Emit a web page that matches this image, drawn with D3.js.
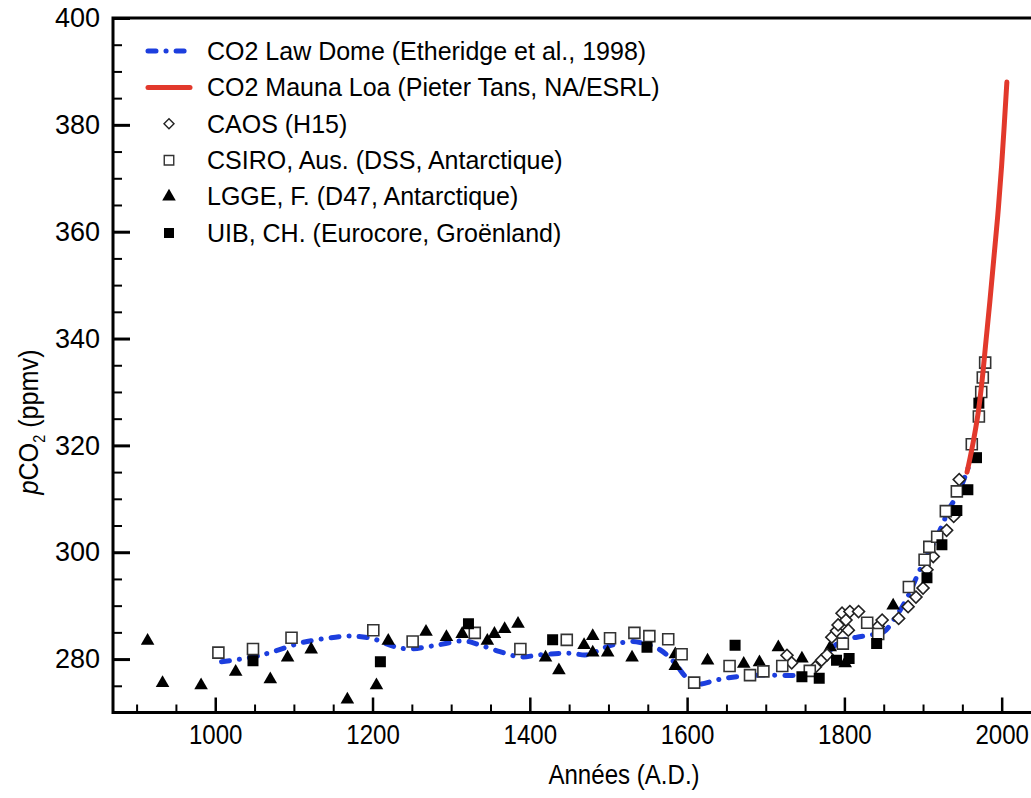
<!DOCTYPE html>
<html>
<head>
<meta charset="utf-8">
<script src="https://cdn.jsdelivr.net/npm/d3@7"></script>
<style>
  body { margin: 0; background: #fff; }
  svg { display: block; }
  .tick text { fill: #000; }
</style>
</head>
<body>
<div id="chart"></div>
<script>
// Law Dome spline (Etheridge et al., 1998), [year, ppmv]
const lawDome = [
  [1008, 279.5], [1049, 280.4], [1074, 281.4], [1108, 283], [1142, 283.9],
  [1172, 284.3], [1201, 283.8], [1222, 282.6], [1244, 281.9], [1278, 282.5],
  [1316, 283.4], [1337, 282.6], [1362, 281.4], [1388, 280.4], [1413, 280.8],
  [1451, 281.1], [1473, 280.8], [1498, 282.3], [1528, 283.3], [1545, 282.9],
  [1566, 281.7], [1583, 279.5], [1600, 276.4], [1612, 275.3], [1638, 276.1],
  [1663, 276.7], [1693, 277], [1740, 277], [1757, 277.6], [1774, 279.8],
  [1784, 282], [1799, 283.6], [1816, 284.1], [1833, 284.5], [1850, 285.1],
  [1862, 287.2], [1880, 291.5], [1896, 296.7], [1918, 303], [1935, 308.6],
  [1943, 310.5], [1956, 315.2], [1962, 318]
];

// Mauna Loa (Pieter Tans, NOAA/ESRL)
const maunaLoa = [
  [1956, 315], [1963, 320], [1970, 326], [1975, 332], [1980, 339.5],
  [1985, 347], [1990, 355], [1995, 363], [2000, 372.5], [2006.6, 388]
];

// CAOS (H15) diamonds
const caos = [
  [1727, 280.7], [1733, 279.3], [1763, 278.5], [1771, 279.8], [1778, 280.8],
  [1784, 284.1], [1790, 285.3], [1792, 286.4], [1797, 288.6], [1802, 287.3],
  [1805, 285.4], [1807, 288.9], [1818, 288.9], [1843, 286.1], [1848, 287.3],
  [1869, 287.6], [1881, 289.8], [1891, 291.6], [1900, 293.3], [1905, 296.7],
  [1913, 299.2], [1930, 304.1], [1939, 306.7], [1946, 313.6]
];

// CSIRO, Aus. (DSS) open squares
const csiro = [
  [1004, 281.2], [1048, 281.9], [1097, 284], [1201, 285.4], [1251, 283.3],
  [1330, 284.9], [1388, 281.9], [1447, 283.6], [1502, 283.9], [1533, 284.9],
  [1552, 284.3], [1576, 283.7], [1593, 280.9], [1609, 275.6], [1654, 278.7],
  [1680, 277], [1697, 277.7], [1721, 278.7], [1756, 277.8], [1798, 282.9],
  [1829, 286.8], [1843, 284.7], [1882, 293.5], [1902, 298.6], [1908, 301],
  [1918, 302.9], [1929, 307.7], [1943, 311.4], [1962, 320.2], [1971, 325.4],
  [1974, 330], [1976, 332.7], [1979, 335.5]
];

// LGGE, F. (D47) triangles
const lgge = [
  [914, 283.4], [933, 275.5], [982, 275.1], [1026, 277.6], [1070, 276.2],
  [1092, 280.3], [1122, 281.8], [1168, 272.4], [1205, 275.1], [1220, 283.4],
  [1268, 285.1], [1294, 284.1], [1314, 284.7], [1346, 283.4], [1355, 284.7],
  [1368, 285.6], [1385, 286.6], [1420, 280.3], [1437, 277.9], [1469, 282.6],
  [1480, 284.3], [1480, 281.2], [1499, 281.2], [1530, 280.3], [1585, 280.9],
  [1585, 278.7], [1626, 279.7], [1672, 279.1], [1692, 279.4], [1716, 282.2],
  [1746, 280.1], [1782, 282.2], [1801, 279.2], [1862, 290]
];

// UIB, CH. (Eurocore) filled squares
const uib = [
  [1048, 279.7], [1210, 279.5], [1322, 286.6], [1429, 283.6], [1549, 282.2],
  [1661, 282.6], [1746, 276.7], [1768, 276.4], [1790, 279.8], [1806, 280.1],
  [1841, 282.9], [1905, 295.2], [1924, 301.4], [1943, 307.8], [1957, 311.7],
  [1968, 317.7], [1971, 327.9]
];

const legendLabels = [
  "CO2 Law Dome (Etheridge et al., 1998)",
  "CO2 Mauna Loa (Pieter Tans, NA/ESRL)",
  "CAOS (H15)",
  "CSIRO, Aus. (DSS, Antarctique)",
  "LGGE, F. (D47, Antarctique)",
  "UIB, CH. (Eurocore, Groënland)"
];

const xMajor = [1000, 1200, 1400, 1600, 1800, 2000];
const yMajor = [280, 300, 320, 340, 360, 380, 400];

const width = 1031, height = 798;
const blue = "#1c3ede", red = "#e2392c";

const svg = d3.select("#chart").append("svg")
  .attr("width", width)
  .attr("height", height)
  .attr("id", "chart_svg");

const x = d3.scaleLinear().domain([870, 2050]).range([113, 1041]);
const y = d3.scaleLinear().domain([270, 400]).range([712.5, 18]);

svg.append("clipPath").attr("id", "plotclip")
  .append("rect")
  .attr("x", x.range()[0]).attr("y", y.range()[1])
  .attr("width", x.range()[1] - x.range()[0])
  .attr("height", y.range()[0] - y.range()[1]);

// minor ticks (every 50 yrs / 5 ppmv), inward
const xMinor = d3.range(900, 2050, 50).filter(v => xMajor.indexOf(v) < 0);
const yMinor = d3.range(275, 400, 5).filter(v => yMajor.indexOf(v) < 0);

svg.append("g")
  .attr("transform", "translate(0," + y.range()[0] + ")")
  .call(d3.axisBottom(x).tickValues(xMinor).tickSize(-8).tickFormat(""))
  .call(g => g.select(".domain").remove())
  .selectAll("line").attr("stroke-width", 2);

svg.append("g")
  .attr("transform", "translate(" + x.range()[0] + ",0)")
  .call(d3.axisLeft(y).tickValues(yMinor).tickSize(-9).tickFormat(""))
  .call(g => g.select(".domain").remove())
  .selectAll("line").attr("stroke-width", 2);

// major ticks with labels
const xAxis = svg.append("g")
  .attr("transform", "translate(0," + y.range()[0] + ")")
  .call(d3.axisBottom(x).tickValues(xMajor).tickSizeInner(-15).tickSizeOuter(0).tickPadding(12).tickFormat(d3.format("d")));
xAxis.select(".domain").remove();
xAxis.selectAll("line").attr("stroke-width", 2.5);
xAxis.selectAll("text")
  .style("font-family", "'Liberation Sans', Arial, sans-serif")
  .style("font-size", "28px")
  .attr("transform", "scale(0.86,1)");

const yAxis = svg.append("g")
  .attr("transform", "translate(" + x.range()[0] + ",0)")
  .call(d3.axisLeft(y).tickValues(yMajor).tickSizeInner(-17).tickSizeOuter(0).tickPadding(13));
yAxis.select(".domain").remove();
yAxis.selectAll("line").attr("stroke-width", 3);
yAxis.selectAll("text")
  .style("font-family", "'Liberation Sans', Arial, sans-serif")
  .style("font-size", "27px");

// frame
svg.append("path")
  .attr("d", "M" + x.range()[1] + "," + y.range()[1] + "H" + x.range()[0] + "V" + y.range()[0] + "H" + x.range()[1])
  .attr("fill", "none")
  .attr("stroke", "#000")
  .attr("stroke-width", 3);

const plot = svg.append("g").attr("clip-path", "url(#plotclip)");

const line = d3.line()
  .x(d => x(d[0]))
  .y(d => y(d[1]))
  .curve(d3.curveCatmullRom);

plot.append("path")
  .datum(lawDome)
  .attr("d", line)
  .attr("fill", "none")
  .attr("stroke", blue)
  .attr("stroke-width", 5)
  .attr("stroke-linecap", "round")
  .style("stroke-dasharray", "8, 10, 0.1, 10");

// symbols
const tri = d3.symbol().type(d3.symbolTriangle).size(80);
const sq = d3.symbol().type(d3.symbolSquare).size(121);
const dia = d3.symbol().type(d3.symbolSquare).size(72);

function drawSymbols(data, gen, fill, stroke, rotate) {
  plot.append("g").selectAll("path")
    .data(data)
    .join("path")
    .attr("d", gen())
    .attr("transform", d => "translate(" + x(d[0]) + "," + y(d[1]) + ")" + (rotate ? " rotate(45)" : ""))
    .attr("fill", fill)
    .attr("stroke", stroke)
    .attr("stroke-width", stroke === "none" ? 0 : 1.6);
}

drawSymbols(lgge, tri, "#000", "none", false);
drawSymbols(caos, dia, "#fff", "#222", true);
drawSymbols(csiro, sq, "#fff", "#333", false);
drawSymbols(uib, sq, "#000", "none", false);

plot.append("path")
  .datum(maunaLoa)
  .attr("d", line)
  .attr("fill", "none")
  .attr("stroke", red)
  .attr("stroke-width", 5)
  .attr("stroke-linecap", "round");

// legend
const legend = svg.append("g");
const lx0 = 148, lx1 = 190, ly0 = 51, ldy = 36.4;
legendLabels.forEach((lab, i) => {
  const ly = ly0 + i * ldy;
  legend.append("text")
    .attr("x", 207)
    .attr("y", ly)
    .attr("dy", "0.35em")
    .style("font-family", "'Liberation Sans', Arial, sans-serif")
    .style("font-size", "25px")
    .text(lab);
});
legend.append("line")
  .attr("x1", lx0).attr("x2", lx1).attr("y1", ly0).attr("y2", ly0)
  .attr("stroke", blue).attr("stroke-width", 5).attr("stroke-linecap", "round")
  .style("stroke-dasharray", "8, 10, 0.1, 10");
legend.append("line")
  .attr("x1", lx0).attr("x2", lx1).attr("y1", ly0 + ldy).attr("y2", ly0 + ldy)
  .attr("stroke", red).attr("stroke-width", 5).attr("stroke-linecap", "round");
const lxm = (lx0 + lx1) / 2;
legend.append("path").attr("d", d3.symbol().type(d3.symbolSquare).size(50)())
  .attr("transform", "translate(" + lxm + "," + (ly0 + 2 * ldy) + ") rotate(45)")
  .attr("fill", "#fff").attr("stroke", "#222").attr("stroke-width", 1.4);
legend.append("path").attr("d", d3.symbol().type(d3.symbolSquare).size(90)())
  .attr("transform", "translate(" + lxm + "," + (ly0 + 3 * ldy) + ")")
  .attr("fill", "#fff").attr("stroke", "#333").attr("stroke-width", 1.4);
legend.append("path").attr("d", tri())
  .attr("transform", "translate(" + lxm + "," + (ly0 + 4 * ldy) + ")")
  .attr("fill", "#000");
legend.append("path").attr("d", d3.symbol().type(d3.symbolSquare).size(100)())
  .attr("transform", "translate(" + lxm + "," + (ly0 + 5 * ldy) + ")")
  .attr("fill", "#000");

// axis titles
svg.append("text")
  .attr("transform", "translate(624,784) scale(0.86,1)")
  .attr("text-anchor", "middle")
  .style("font-family", "'Liberation Sans', Arial, sans-serif")
  .style("font-size", "28px")
  .text("Années (A.D.)");

const yTitle = svg.append("text")
  .attr("transform", "translate(38,422) rotate(-90) scale(0.9,1)")
  .attr("text-anchor", "middle")
  .style("font-family", "'Liberation Sans', Arial, sans-serif")
  .style("font-size", "28px");
yTitle.append("tspan").style("font-style", "italic").text("p");
yTitle.append("tspan").text("CO");
yTitle.append("tspan").attr("dy", 7).style("font-size", "16px").text("2");
yTitle.append("tspan").attr("dy", -7).text(" (ppmv)");
</script>
</body>
</html>
